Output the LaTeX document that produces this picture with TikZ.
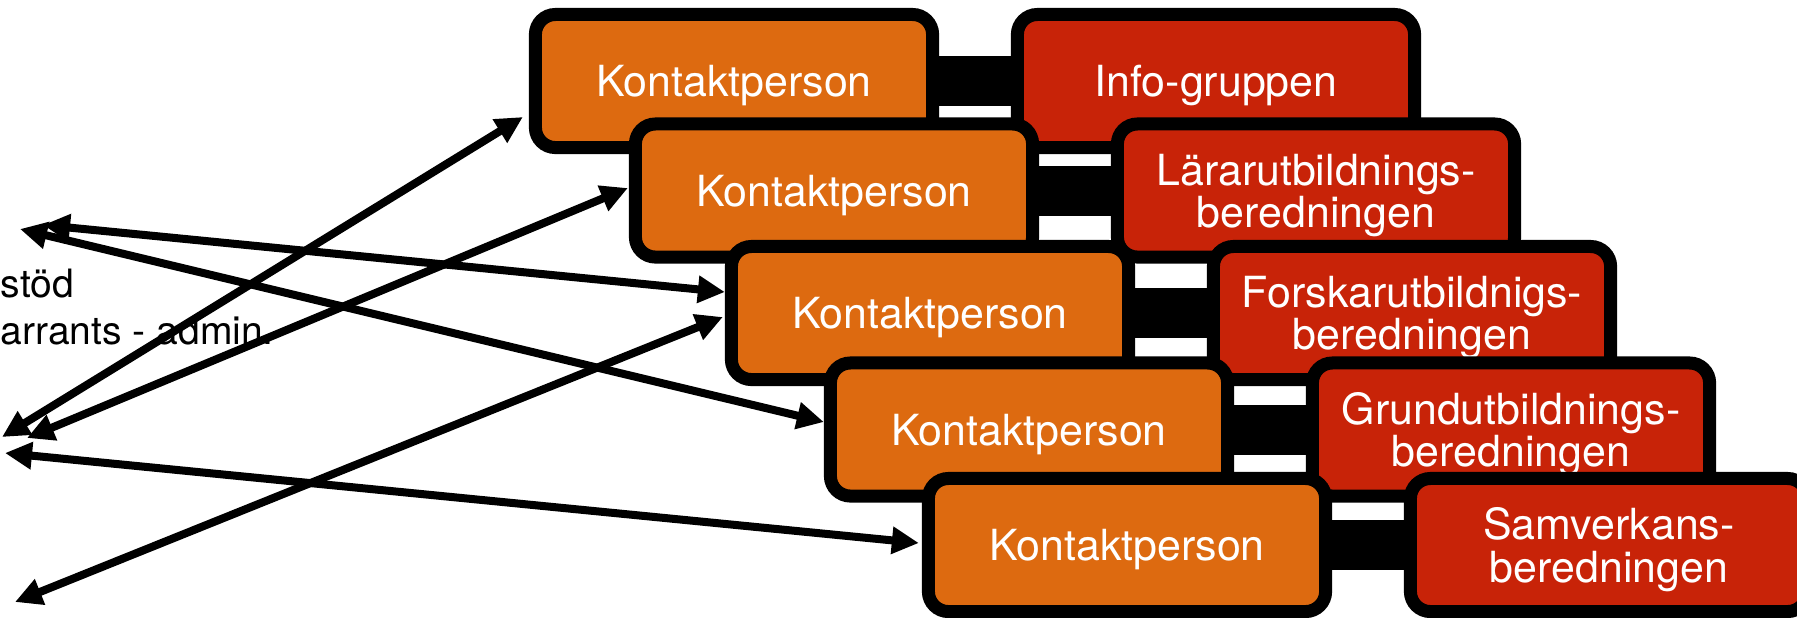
\documentclass[tikz,border=0pt]{standalone}
\usepackage{fontspec}
\setmainfont{TeX Gyre Heros}
\usetikzlibrary{arrows.meta}
\definecolor{kporange}{RGB}{221,106,16}
\definecolor{grpred}{RGB}{200,35,8}
\tikzset{
  box/.style={draw=black, line width=0.13cm, rounded corners=0.2cm,
    minimum width=3.97cm, minimum height=1.33cm, inner sep=0pt,
    text=white, font=\fontsize{12.2}{12}\selectfont},
  kp/.style={box, fill=kporange, text height=0.31cm, text depth=0pt},
  grp/.style={box, fill=grpred, align=center, text depth=0pt},
  link/.style={line width=0.5cm},
  arr/.style={line width=0.08cm,
    {Triangle[length=0.27cm,width=0.26cm]}-{Triangle[length=0.27cm,width=0.26cm]}},
  note/.style={anchor=base west, inner sep=0pt, font=\fontsize{11.1}{13}\selectfont}
}
\begin{document}
\begin{tikzpicture}[x=0.01cm,y=-0.01cm]
        \useasboundingbox (0,0) rectangle (1797,617);
        \node[note] (t1) at (0,297) {stöd};
        \node[note] (t2) at (0,344) {arrants - admin.};
        % rader
        \node[kp] (k1) at (734,81) {Kontaktperson};
        \node[grp] (g1) at (1216,81) {Info-gruppen};
        \draw[link] (k1.east) -- (g1.west);
        \node[kp] (k2) at (834,190.5) {Kontaktperson};
        \node[grp] (g2) at (1316,190.5) {Lärarutbildnings-\\beredningen};
        \draw[link] (k2.east) -- (g2.west);
        \node[kp] (k3) at (930,313) {Kontaktperson};
        \node[grp] (g3) at (1412,313) {Forskarutbildnigs-\\beredningen};
        \draw[link] (k3.east) -- (g3.west);
        \node[kp] (k4) at (1029,429.5) {Kontaktperson};
        \node[grp] (g4) at (1511,429.5) {Grundutbildnings-\\beredningen};
        \draw[link] (k4.east) -- (g4.west);
        \node[kp] (k5) at (1127,545) {Kontaktperson};
        \node[grp] (g5) at (1609,545) {Samverkans-\\beredningen};
        \draw[link] (k5.east) -- (g5.west);
        % pilar
        \coordinate (l1) at (2,437);
        \coordinate (l2) at (27,438);
        \coordinate (l3) at (43,225);
        \coordinate (l4) at (20,229);
        \coordinate (l5) at (5,453);
        \coordinate (l6) at (15,602);
        \draw[arr] (l1) -- ([shift={(-6,36)}]k1.west);
        \draw[arr] (l2) -- ([shift={(-1,-2.5)}]k2.west);
        \draw[arr] (l3) -- ([shift={(0,-21)}]k3.west);
        \draw[arr] (l6) -- ([shift={(-2,4)}]k3.west);
        \draw[arr] (l4) -- ([shift={(0,-7.5)}]k4.west);
        \draw[arr] (l5) -- ([shift={(-3,-2)}]k5.west);
    \end{tikzpicture}
\end{document}
